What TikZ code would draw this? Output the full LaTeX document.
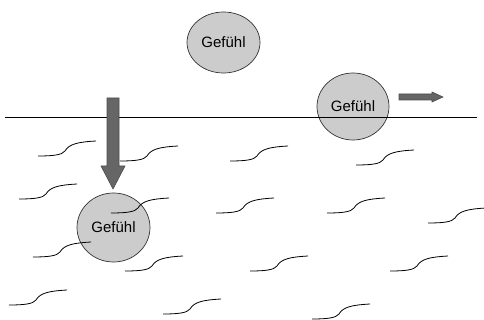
\documentclass[tikz,border=0pt]{standalone}
\usepackage{fontspec}
\setmainfont{Liberation Sans}
\usetikzlibrary{shapes.geometric}
\definecolor{blasengrau}{HTML}{CCCCCC}
\definecolor{pfeilgrau}{HTML}{666666}
\begin{document}
\begin{tikzpicture}[x=1pt, y=-1pt,
        gefuehl/.style={ellipse, draw=black!80, fill=blasengrau, line width=0.7pt, inner sep=0pt, font=\fontsize{15}{18}\selectfont},
        welle/.style={black, line width=0.8pt},
        pfeil/.style={fill=pfeilgrau, draw=black!70, line width=0.6pt}]
        \useasboundingbox (0,0) rectangle (484,320);

        % Gefuehle
        \node[gefuehl, minimum width=73pt, minimum height=61pt] (oben) at (223.5,42.5) {Gefühl};
        \node[gefuehl, minimum width=72pt, minimum height=67pt] (rand) at (353,106.5) {Gefühl};
        \node[gefuehl, minimum width=73pt, minimum height=69pt] (unten) at (113.5,227.5) {Gefühl};

        % Oberflaeche
        \draw[black, line width=0.8pt] (5,117) -- (477,117);

        % Wellen
        \foreach \x/\y in {38/156, 120/161, 230/161, 356/165,
                           19/199, 111/213, 216/213, 327/213, 428/223,
                           33/257, 125/271, 250/271, 390/271,
                           9/305, 163/314, 312/319}
            \draw[welle] (\x,\y) .. controls +(15,0) and +(-3,4) .. ++(27,-5)
                                 .. controls +(4,-7) and +(-18,1) .. ++(31,-10);

        % Pfeile
        \filldraw[pfeil] (107,98) -- (119,98) -- (119,166) -- (125,166) -- (113,189)
                         -- (101,166) -- (107,166) -- cycle;
        \filldraw[pfeil] (399,94) -- (432,94) -- (432,92) -- (443,97) -- (432,102)
                         -- (432,100) -- (399,100) -- cycle;
\end{tikzpicture}
\end{document}
